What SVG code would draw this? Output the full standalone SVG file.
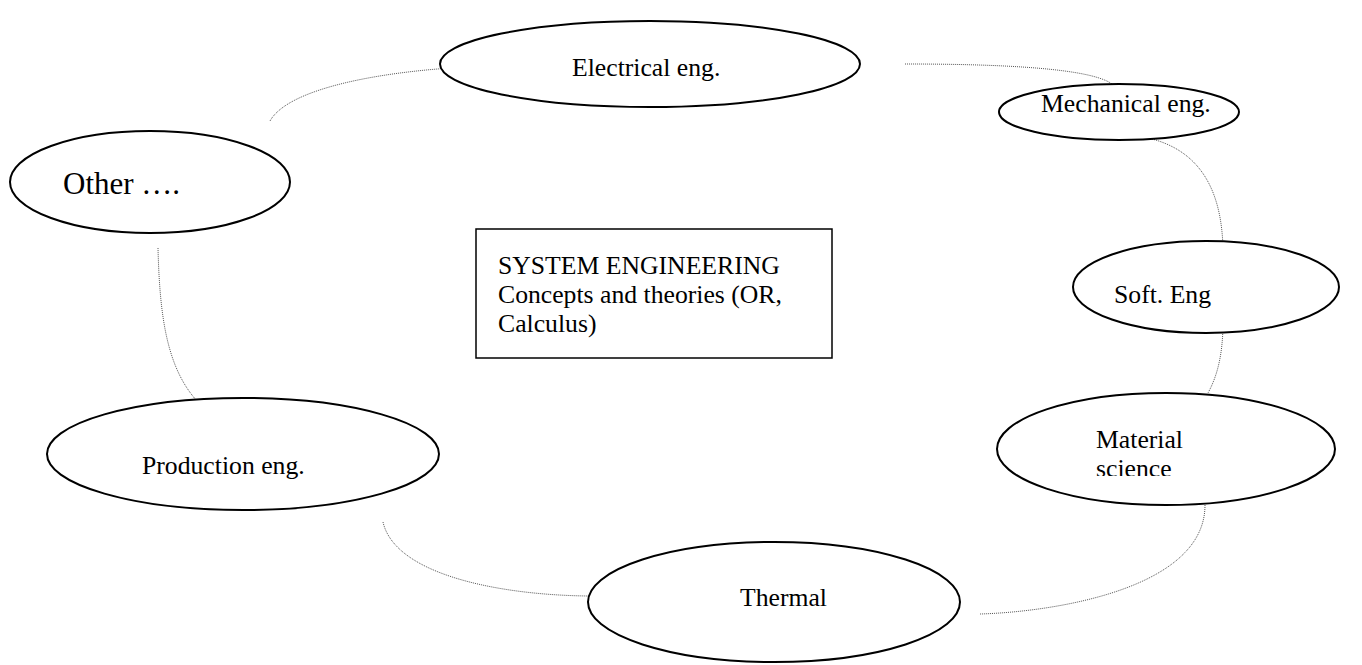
<svg xmlns="http://www.w3.org/2000/svg" width="1362" height="665" viewBox="0 0 1362 665">
<style>
.n{fill:#fff;stroke:#000;stroke-width:2}
.t{font-family:"Liberation Serif",serif;font-size:25.7px;fill:#000}
.c{fill:none;stroke:#555;stroke-width:1;stroke-dasharray:1 1}
</style>
<defs><clipPath id="mc"><rect x="990" y="390" width="350" height="86"/></clipPath></defs>
<rect width="1362" height="665" fill="#fff"/>
<g id="connectors">
<path class="c" d="M270,121 C290,85 400,68 495,66"/>
<path class="c" d="M905,64 C1000,64 1090,68 1112,84"/>
<path class="c" d="M1148,138 C1200,150 1222,190 1223,250"/>
<path class="c" d="M1223,322 C1223,360 1215,380 1208,393"/>
<path class="c" d="M1205,505 C1205,590 1050,612 980,614"/>
<path class="c" d="M383,522 C395,575 500,595 588,596"/>
<path class="c" d="M158,248 C160,330 170,385 215,417"/>
</g>
<g id="electrical"><ellipse class="n" cx="650" cy="64" rx="210" ry="43"/><text class="t" x="572" y="76">Electrical eng.</text></g>
<g id="mechanical"><ellipse class="n" cx="1119" cy="112" rx="120" ry="28"/><text class="t" x="1041" y="112">Mechanical eng.</text></g>
<g id="other"><ellipse class="n" cx="150" cy="182" rx="140" ry="51"/><text class="t" x="63" y="194" style="font-size:31px">Other ….</text></g>
<g id="system"><rect x="476" y="229" width="356" height="129" fill="#fff" stroke="#000" stroke-width="1.5"/>
<text class="t" x="498" y="274">SYSTEM ENGINEERING</text>
<text class="t" x="498" y="303">Concepts and theories (OR,</text>
<text class="t" x="498" y="332">Calculus)</text></g>
<g id="soft"><ellipse class="n" cx="1206" cy="287" rx="133" ry="46"/><text class="t" x="1114" y="303">Soft. Eng</text></g>
<g id="material"><ellipse class="n" cx="1166" cy="449" rx="169" ry="56"/><g clip-path="url(#mc)"><text class="t" x="1096" y="448">Material</text><text class="t" x="1096" y="477">science</text></g></g>
<g id="production"><ellipse class="n" cx="243" cy="454" rx="196" ry="56"/><text class="t" x="142" y="474">Production eng.</text></g>
<g id="thermal"><ellipse class="n" cx="774" cy="602" rx="186" ry="60"/><text class="t" x="740" y="606">Thermal</text></g>
</svg>
